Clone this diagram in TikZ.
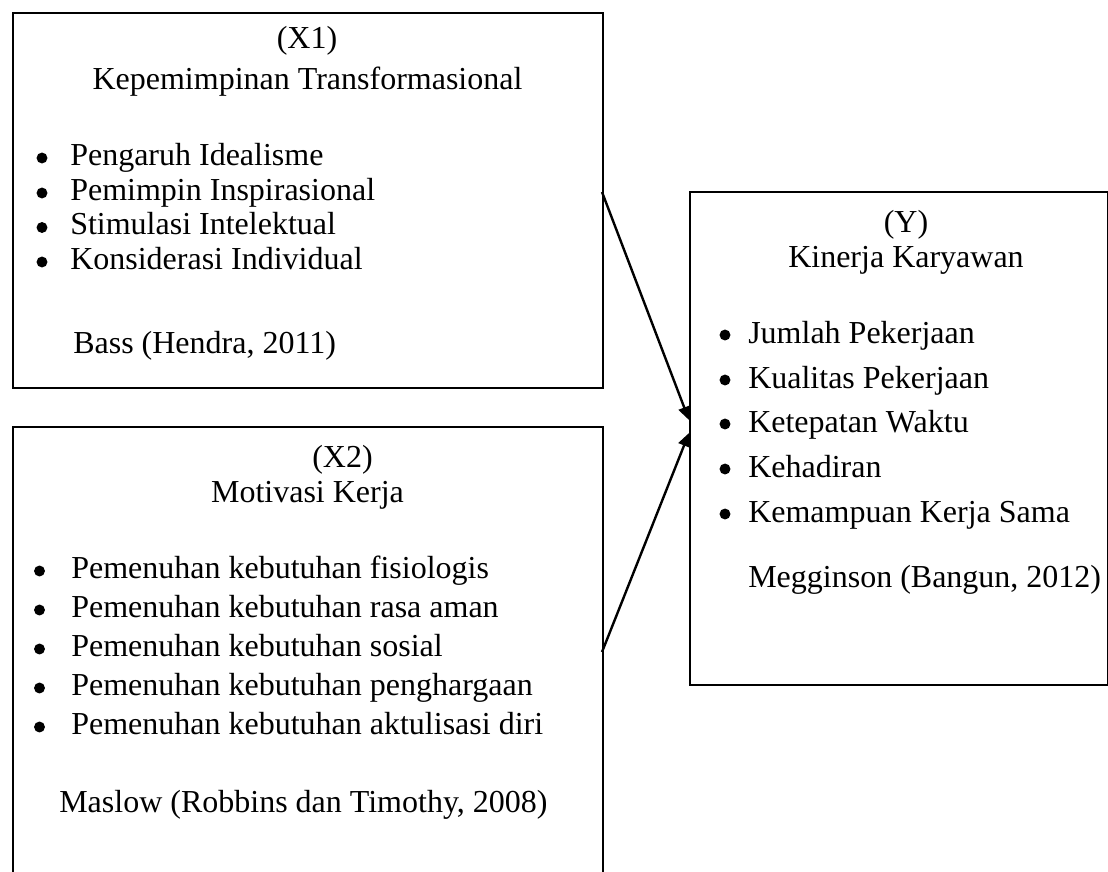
\documentclass[tikz,border=0pt]{standalone}
\usepackage{fontspec}
\setmainfont{Liberation Serif}
\usetikzlibrary{arrows.meta}
\begin{document}
\begin{tikzpicture}[x=0.75pt,y=-0.75pt,
  boxst/.style={draw=black,line width=1.3pt,rectangle,inner sep=0pt,anchor=north west},
  txt/.style={inner sep=0pt,font=\fontsize{24}{28}\selectfont},
  dot/.style={circle,fill=black,inner sep=0pt,minimum size=8.2pt},
  arr/.style={line width=1.8pt,-{Triangle[length=10pt,width=9pt]}}]
\useasboundingbox (0,0) rectangle (1108,872);
\clip (0,0) rectangle (1108,872);
% boxes
\node[boxst,minimum width=442.5pt,minimum height=281.25pt] (x1) at (12,12) {};
\node[boxst,minimum width=442.5pt,minimum height=340.5pt] (x2) at (12,426) {};
\node[boxst,minimum width=313.5pt,minimum height=369.75pt] (yb) at (689,191) {};
% X1 texts
\node[txt,anchor=base] (x1t) at (307,48) {(X1)};
\node[txt,anchor=base] (x1n) at (307.5,89) {Kepemimpinan Transformasional};
\node[dot] (x1d1) at (42,158) {};
\node[dot] (x1d2) at (42,193) {};
\node[dot] (x1d3) at (42,227.5) {};
\node[dot] (x1d4) at (42,262) {};
\node[txt,anchor=base west] (x1i1) at (70,165) {Pengaruh Idealisme};
\node[txt,anchor=base west] (x1i2) at (70,200) {Pemimpin Inspirasional};
\node[txt,anchor=base west] (x1i3) at (70,234.5) {Stimulasi Intelektual};
\node[txt,anchor=base west] (x1i4) at (70,269) {Konsiderasi Individual};
\node[txt,anchor=base west] (x1s) at (73,353) {Bass (Hendra, 2011)};
% X2 texts
\node[txt,anchor=base] (x2t) at (342.5,467) {(X2)};
\node[txt,anchor=base] (x2n) at (307.5,502) {Motivasi Kerja};
\node[dot] (x2d1) at (39.5,571) {};
\node[dot] (x2d2) at (39.5,610) {};
\node[dot] (x2d3) at (39.5,649) {};
\node[dot] (x2d4) at (39.5,688) {};
\node[dot] (x2d5) at (39.5,727) {};
\node[txt,anchor=base west] (x2i1) at (71,578) {Pemenuhan kebutuhan fisiologis};
\node[txt,anchor=base west] (x2i2) at (71,617) {Pemenuhan kebutuhan rasa aman};
\node[txt,anchor=base west] (x2i3) at (71,656) {Pemenuhan kebutuhan sosial};
\node[txt,anchor=base west] (x2i4) at (71,695) {Pemenuhan kebutuhan penghargaan};
\node[txt,anchor=base west] (x2i5) at (71,734) {Pemenuhan kebutuhan aktulisasi diri};
\node[txt,anchor=base west] (x2s) at (59,812) {Maslow (Robbins dan Timothy, 2008)};
% Y texts
\node[txt,anchor=base] (yt) at (906,232) {(Y)};
\node[txt,anchor=base] (yn) at (906,267) {Kinerja Karyawan};
\node[dot] (yd1) at (725,335) {};
\node[dot] (yd2) at (725,380) {};
\node[dot] (yd3) at (725,424) {};
\node[dot] (yd4) at (725,469) {};
\node[dot] (yd5) at (725,514) {};
\node[txt,anchor=base west] (yi1) at (748,343) {Jumlah Pekerjaan};
\node[txt,anchor=base west] (yi2) at (748,388) {Kualitas Pekerjaan};
\node[txt,anchor=base west] (yi3) at (748,432) {Ketepatan Waktu};
\node[txt,anchor=base west] (yi4) at (748,477) {Kehadiran};
\node[txt,anchor=base west] (yi5) at (748,522) {Kemampuan Kerja Sama};
\node[txt,anchor=base west] (ys) at (748,587) {Megginson (Bangun, 2012)};
% connectors
\coordinate (s1) at (602,192);
\coordinate (e1) at (689,420);
\coordinate (s2) at (602,652);
\coordinate (e2) at (689,433);
\draw[arr] (s1) -- (e1);
\draw[arr] (s2) -- (e2);
\end{tikzpicture}
\end{document}
